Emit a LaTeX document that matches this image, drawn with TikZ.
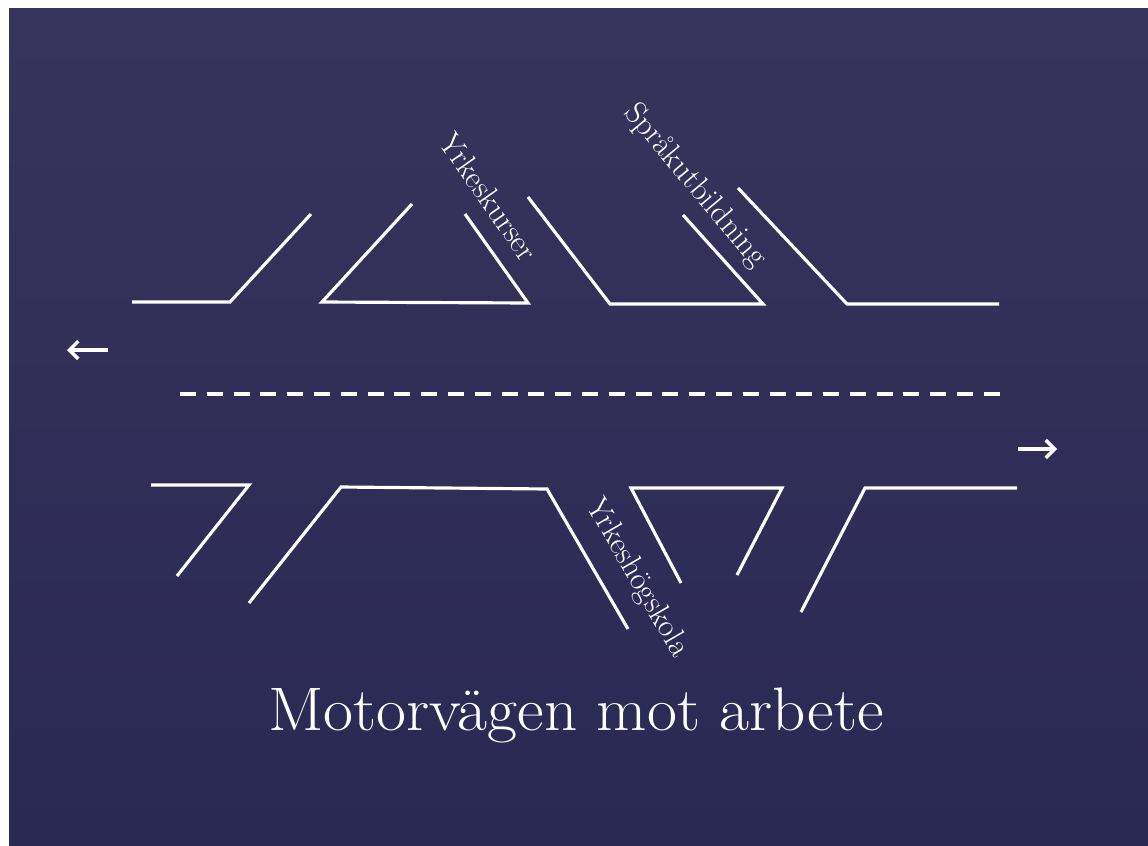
\documentclass[tikz,border=0pt]{standalone}
\usepackage{tikz}
\usetikzlibrary{arrows.meta}

\begin{document}
\begin{tikzpicture}[
  x=0.02cm, y=-0.02cm,   % one unit = one pixel of the slide
  road/.style={draw=white, line width=1.8pt},
  lane/.style={draw=white, line width=2.2pt, dash pattern=on 0.32cm off 0.216cm},
  way/.style={white, line width=2pt, -{Straight Barb[length=5pt,width=10pt]}},
  lbl/.style={text=white, inner sep=0pt, font=\fontsize{18}{20}\selectfont},
  title/.style={text=white, inner sep=0pt, font=\fontsize{35}{40}\selectfont},
]
\useasboundingbox (0,0) rectangle (1148,845);

% --- Slide background ---
\fill[white] (0,0) rectangle (1148,845);
\shade[top color={rgb,255:red,55;green,52;blue,92},
       bottom color={rgb,255:red,42;green,41;blue,84}]
  (9,8) rectangle (1148,845);

% --- Upper side: exits ---
\draw[road] (132,302) -- (230,302) -- (311,214);
\draw[road] (412,204) -- (322,302) -- (528,303) -- (465,214);
\draw[road] (528,197) -- (610,304) -- (763,304) -- (683,215);
\draw[road] (738,188) -- (847,304) -- (999,304);

\node[lbl, rotate=-55] (kurs) at (489,197) {Yrkeskurser};
\node[lbl, rotate=-50] (sprak) at (695,186) {Språkutbildning};

% --- Directions + centre line ---
\coordinate (lA) at (108,350);
\coordinate (lB) at (67,350);
\draw[way] (lA) -- (lB);

\coordinate (mA) at (180,394);
\coordinate (mB) at (1000,394);
\draw[lane] (mA) -- (mB);

\coordinate (rA) at (1018,449);
\coordinate (rB) at (1057,449);
\draw[way] (rA) -- (rB);

% --- Lower side: exits ---
\draw[road] (151,485) -- (249,485) -- (177,576);
\draw[road] (249,603) -- (341,487) -- (547,489) -- (628,629);
\draw[road] (681,583) -- (631,488) -- (782,488) -- (737,575);
\draw[road] (801,612) -- (865,488) -- (1017,488);

\node[lbl, rotate=-60] (hogsk) at (637,578) {Yrkeshögskola};

% --- Title ---
\node[title] (rubrik) at (576,715) {\scalebox{1.06}[1]{Motorvägen mot arbete}};

\end{tikzpicture}
\end{document}
